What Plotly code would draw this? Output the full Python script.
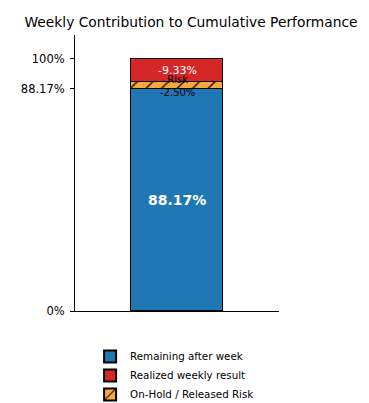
import plotly.graph_objects as go

categories = ["Week"]
remaining = [88.17]
risk = [2.50]
realized = [9.33]
tick_vals = [0, 88.17, 100]
tick_text = ["0%", "88.17%", "100%"]

fig = go.Figure()
fig.add_trace(go.Bar(x=categories, y=remaining, name="Remaining after week",
                     marker=dict(color="#1f77b4", line=dict(color="black", width=1.2)),
                     width=0.9, legendrank=1))
fig.add_trace(go.Bar(x=categories, y=risk, name="On-Hold / Released Risk",
                     marker=dict(color="#f9a83a", line=dict(color="black", width=1.2),
                                 pattern=dict(shape="/", fgcolor="black", bgcolor="#f9a83a", size=11, solidity=0.12)),
                     width=0.9, legendrank=3))
fig.add_trace(go.Bar(x=categories, y=realized, name="Realized weekly result",
                     marker=dict(color="#d62728", line=dict(color="black", width=1.2)),
                     width=0.9, legendrank=2))

base_risk = remaining[0]
base_real = remaining[0] + risk[0]
anns = [
    dict(x=categories[0], y=remaining[0] / 2, text=f"{remaining[0]:.2f}%", showarrow=False,
         font=dict(color="white", size=14, family="DejaVu Sans", weight="bold")),
    dict(x=categories[0], y=base_real + realized[0] / 2, text=f"-{realized[0]:.2f}%", showarrow=False,
         font=dict(color="white", size=11, family="DejaVu Sans")),
    dict(x=categories[0], y=base_risk + risk[0] / 2, text=f"Risk<br>-{risk[0]:.2f}%", showarrow=False,
         font=dict(color="black", size=10, family="DejaVu Sans")),
]

W, H = 361, 395  # page body adds an 8px offset
fig.update_layout(
    width=W, height=H,
    barmode="stack",
    template="none",
    plot_bgcolor="white", paper_bgcolor="white",
    margin=dict(l=67, r=90, t=27, b=92, autoexpand=False),
    font=dict(family="DejaVu Sans", size=10, color="black"),
    title=dict(text="Weekly Contribution to Cumulative Performance", x=0.507, xanchor="center",
               y=1 - 14 / H, yanchor="middle", font=dict(size=13.8, family="DejaVu Sans", color="black")),
    annotations=anns,
    showlegend=True,
    legend=dict(x=0.074, xanchor="left", y=-0.112, yanchor="top", traceorder="normal",
                font=dict(size=10.3, family="DejaVu Sans"), bgcolor="rgba(0,0,0,0)",
                itemsizing="constant", tracegroupgap=0),
    bargap=0,
)
fig.update_xaxes(range=[-1, 1], showticklabels=False, ticks="", showgrid=False, automargin=False,
                 showline=True, linecolor="black", linewidth=1, zeroline=False)
fig.update_yaxes(range=[0, 109.5], tickvals=tick_vals, ticktext=tick_text, ticks="outside", automargin=False,
                 ticklen=4, tickcolor="black", showgrid=False, showline=True, linecolor="black",
                 linewidth=1, zeroline=False, ticklabelstandoff=3,
                 tickfont=dict(size=11.5, family="DejaVu Sans"))

fig.write_html("out.html")
